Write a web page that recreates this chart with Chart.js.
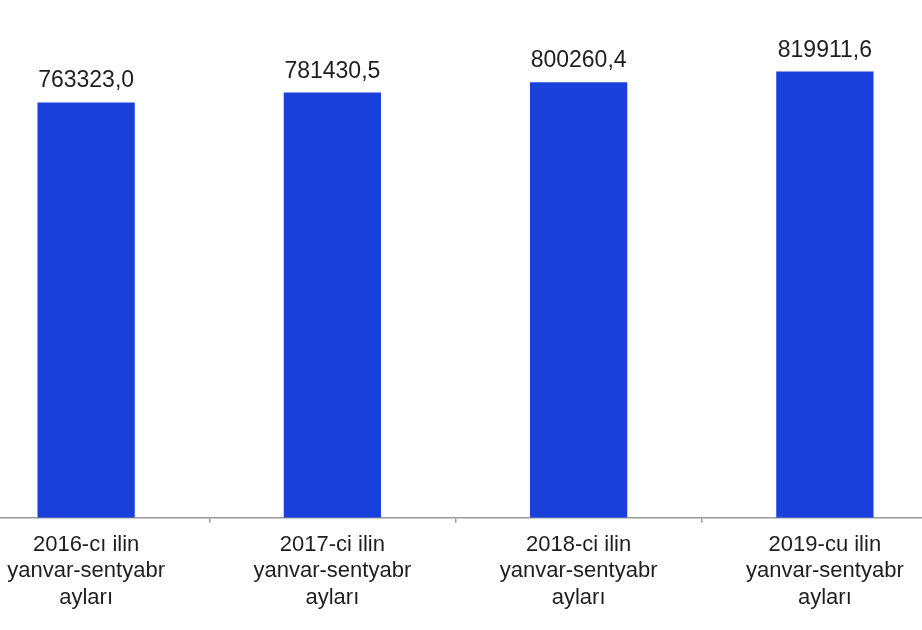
<!DOCTYPE html>
<html>
<head>
<meta charset="utf-8">
<script src="https://cdn.jsdelivr.net/npm/chart.js@4/dist/chart.umd.min.js"></script>
<style>
  html, body { margin: 0; padding: 0; background: #fff; overflow: hidden; }
  #wrap { position: absolute; left: -37px; top: 0; width: 985px; height: 630px; }
</style>
</head>
<body>
<div id="wrap"><canvas id="chart"></canvas></div>
<script>
// categories (multi-line axis labels)
const periods = [
    ['2016-cı ilin', 'yanvar-sentyabr', 'ayları'],
    ['2017-ci ilin', 'yanvar-sentyabr', 'ayları'],
    ['2018-ci ilin', 'yanvar-sentyabr', 'ayları'],
    ['2019-cu ilin', 'yanvar-sentyabr', 'ayları']
];
const values = [763323.0, 781430.5, 800260.4, 819911.6];
const valueLabels = ['763323,0', '781430,5', '800260,4', '819911,6'];

const fontFamily = '"Liberation Sans", Arial, sans-serif';

// value labels above each bar
const barLabels = {
    id: 'barLabels',
    afterDatasetsDraw(chart) {
        const ctx = chart.ctx;
        const meta = chart.getDatasetMeta(0);
        ctx.save();
        ctx.font = '23px ' + fontFamily;
        ctx.fillStyle = '#1e1e1e';
        ctx.textAlign = 'center';
        ctx.textBaseline = 'alphabetic';
        meta.data.forEach((bar, i) => {
            ctx.fillText(valueLabels[i], bar.x, bar.y - 15);
        });
        ctx.restore();
    }
};

const ctx = document.getElementById('chart').getContext('2d');
new Chart(ctx, {
    type: 'bar',
    data: {
        labels: periods,
        datasets: [{
            data: values,
            backgroundColor: '#1a40dc',
            borderWidth: 0,
            barPercentage: 0.395,
            categoryPercentage: 1
        }]
    },
    options: {
        responsive: true,
        maintainAspectRatio: false,
        animation: false,
        layout: { padding: { top: 28, bottom: 10, left: 0, right: 0 } },
        plugins: {
            legend: { display: false },
            tooltip: { enabled: false }
        },
        scales: {
            x: {
                border: { display: true, color: '#9a9a9a', width: 1.5 },
                grid: {
                    offset: true,
                    drawOnChartArea: false,
                    drawTicks: true,
                    tickLength: 5,
                    color: '#9a9a9a',
                    lineWidth: 1.5
                },
                ticks: {
                    color: '#1e1e1e',
                    padding: 9,
                    maxRotation: 0,
                    autoSkip: false,
                    font: { family: fontFamily, size: 22, lineHeight: 1.2 }
                }
            },
            y: {
                display: false,
                min: 0,
                max: 900000
            }
        }
    },
    plugins: [barLabels]
});
</script>
</body>
</html>
